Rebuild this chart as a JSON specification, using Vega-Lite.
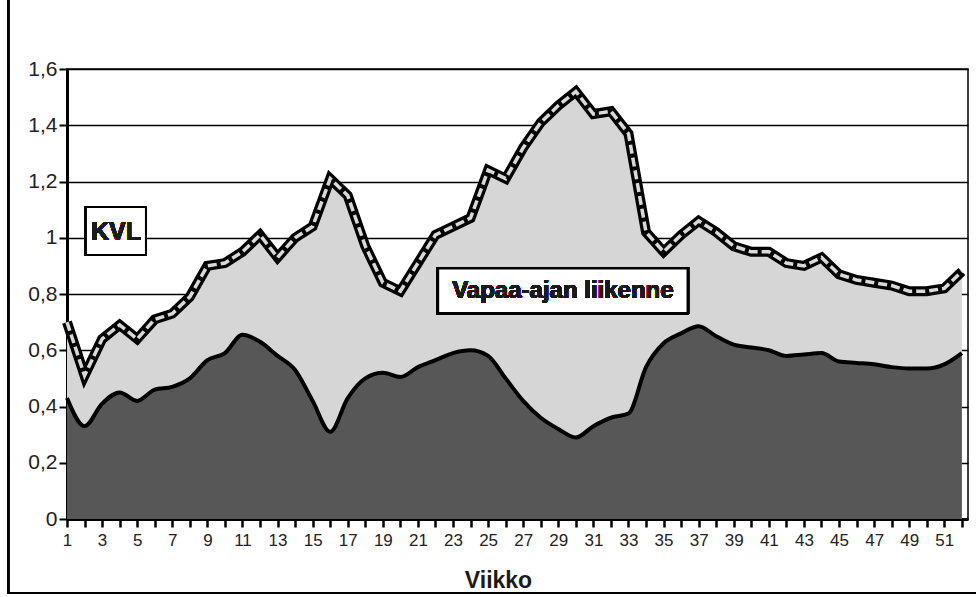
{
  "$schema": "https://vega.github.io/schema/vega-lite/v6.json",
  "autosize": {"type": "none"},
  "padding": {"left": 67, "top": 69, "right": 8, "bottom": 78},
  "width": 901,
  "height": 450,
  "background": "white",
  "config": {
    "font": "Liberation Sans",
    "view": {"stroke": "black", "strokeWidth": 1.5}
  },
  "datasets": {
    "weeks": [
      {"week": 1, "total": 0.70, "lower": 0.43},
      {"week": 2, "total": 0.51, "lower": 0.33},
      {"week": 3, "total": 0.64, "lower": 0.41},
      {"week": 4, "total": 0.69, "lower": 0.45},
      {"week": 5, "total": 0.64, "lower": 0.42},
      {"week": 6, "total": 0.71, "lower": 0.46},
      {"week": 7, "total": 0.73, "lower": 0.47},
      {"week": 8, "total": 0.79, "lower": 0.50},
      {"week": 9, "total": 0.90, "lower": 0.565},
      {"week": 10, "total": 0.91, "lower": 0.59},
      {"week": 11, "total": 0.95, "lower": 0.655},
      {"week": 12, "total": 1.01, "lower": 0.63},
      {"week": 13, "total": 0.93, "lower": 0.58},
      {"week": 14, "total": 1.00, "lower": 0.53},
      {"week": 15, "total": 1.04, "lower": 0.42},
      {"week": 16, "total": 1.21, "lower": 0.31},
      {"week": 17, "total": 1.15, "lower": 0.43},
      {"week": 18, "total": 0.97, "lower": 0.50},
      {"week": 19, "total": 0.84, "lower": 0.52},
      {"week": 20, "total": 0.81, "lower": 0.505},
      {"week": 21, "total": 0.91, "lower": 0.54},
      {"week": 22, "total": 1.01, "lower": 0.565},
      {"week": 23, "total": 1.04, "lower": 0.59},
      {"week": 24, "total": 1.07, "lower": 0.60},
      {"week": 25, "total": 1.24, "lower": 0.58},
      {"week": 26, "total": 1.21, "lower": 0.50},
      {"week": 27, "total": 1.32, "lower": 0.42},
      {"week": 28, "total": 1.41, "lower": 0.36},
      {"week": 29, "total": 1.47, "lower": 0.32},
      {"week": 30, "total": 1.52, "lower": 0.29},
      {"week": 31, "total": 1.44, "lower": 0.33},
      {"week": 32, "total": 1.45, "lower": 0.36},
      {"week": 33, "total": 1.37, "lower": 0.375},
      {"week": 34, "total": 1.02, "lower": 0.54},
      {"week": 35, "total": 0.95, "lower": 0.625},
      {"week": 36, "total": 1.01, "lower": 0.66},
      {"week": 37, "total": 1.06, "lower": 0.685},
      {"week": 38, "total": 1.02, "lower": 0.65},
      {"week": 39, "total": 0.97, "lower": 0.62},
      {"week": 40, "total": 0.95, "lower": 0.61},
      {"week": 41, "total": 0.95, "lower": 0.60},
      {"week": 42, "total": 0.91, "lower": 0.58},
      {"week": 43, "total": 0.90, "lower": 0.585},
      {"week": 44, "total": 0.93, "lower": 0.59},
      {"week": 45, "total": 0.87, "lower": 0.56},
      {"week": 46, "total": 0.85, "lower": 0.555},
      {"week": 47, "total": 0.84, "lower": 0.55},
      {"week": 48, "total": 0.83, "lower": 0.54},
      {"week": 49, "total": 0.81, "lower": 0.535},
      {"week": 50, "total": 0.81, "lower": 0.535},
      {"week": 51, "total": 0.82, "lower": 0.55},
      {"week": 52, "total": 0.88, "lower": 0.59}
    ]
  },
  "data": {"name": "weeks"},
  "encoding": {
    "x": {
      "field": "week", "type": "quantitative",
      "scale": {"domain": [1, 52.35], "nice": false, "zero": false},
      "axis": {
        "values": [1,2,3,4,5,6,7,8,9,10,11,12,13,14,15,16,17,18,19,20,21,22,23,24,25,26,27,28,29,30,31,32,33,34,35,36,37,38,39,40,41,42,43,44,45,46,47,48,49,50,51,52],
        "labelExpr": "datum.value % 2 == 1 ? datum.label : ''",
        "grid": false,
        "domainColor": "black", "domainWidth": 3,
        "tickColor": "black", "tickWidth": 2.5, "tickSize": 8,
        "labelFontSize": 17, "labelColor": "#222222", "labelPadding": 5, "labelFlush": false, "labelOverlap": false,
        "title": "Viikko", "titleFontSize": 23, "titleFontWeight": "bold", "titleColor": "#1a1a1a",
        "titleX": 431, "titleY": 68, "titleBaseline": "alphabetic", "titleAnchor": "middle"
      }
    }
  },
  "layer": [
    {
      "mark": {"type": "rect", "fill": null, "stroke": "black", "strokeWidth": 2, "clip": false},
      "encoding": {
        "x": {"datum": -2.36, "type": "quantitative"},
        "x2": {"datum": 56},
        "y": {"datum": -0.263, "type": "quantitative"},
        "y2": {"datum": 2.5}
      }
    },
    {
      "mark": {"type": "area", "color": "#d6d6d6", "interpolate": "linear"},
      "encoding": {
        "y": {
          "field": "total", "type": "quantitative",
          "scale": {"domain": [0, 1.6], "nice": false},
          "axis": {
            "values": [0, 0.2, 0.4, 0.6, 0.8, 1, 1.2, 1.4, 1.6],
            "labelExpr": "replace(format(datum.value, ''), '.', ',')",
            "grid": true, "gridColor": "black", "gridWidth": 1.5, "gridOpacity": 1,
            "domainColor": "black", "domainWidth": 3,
            "tickColor": "black", "tickWidth": 2, "tickSize": 8,
            "labelFontSize": 21, "labelColor": "#222222", "labelPadding": 2, "labelFlush": false,
            "title": null
          }
        }
      }
    },
    {
      "mark": {"type": "area", "color": "#575757", "interpolate": "monotone"},
      "encoding": {"y": {"field": "lower", "type": "quantitative"}}
    },
    {
      "mark": {"type": "line", "color": "black", "strokeWidth": 4, "interpolate": "monotone"},
      "encoding": {"y": {"field": "lower", "type": "quantitative"}}
    },
    {
      "mark": {"type": "line", "color": "black", "strokeWidth": 10, "strokeJoin": "miter"},
      "encoding": {"y": {"field": "total", "type": "quantitative"}}
    },
    {
      "mark": {"type": "line", "color": "#d9d9d9", "strokeWidth": 3.5, "strokeDash": [9, 4], "strokeJoin": "miter"},
      "encoding": {"y": {"field": "total", "type": "quantitative"}}
    },
    {
      "mark": {"type": "rect", "fill": "white", "stroke": "black", "strokeWidth": 2},
      "encoding": {
        "x": {"datum": 2.08, "type": "quantitative"},
        "x2": {"datum": 5.5},
        "y": {"datum": 0.939, "type": "quantitative"},
        "y2": {"datum": 1.109}
      }
    },
    {
      "mark": {"type": "text", "text": "KVL", "fontSize": 25, "fontWeight": "bold", "color": "#1a1a1a", "align": "center", "baseline": "middle"},
      "encoding": {
        "x": {"datum": 3.79, "type": "quantitative"},
        "y": {"datum": 1.022, "type": "quantitative"}
      }
    },
    {
      "mark": {"type": "rect", "fill": "white", "stroke": "black", "strokeWidth": 2.5},
      "encoding": {
        "x": {"datum": 22.14, "type": "quantitative"},
        "x2": {"datum": 36.38},
        "y": {"datum": 0.732, "type": "quantitative"},
        "y2": {"datum": 0.892}
      }
    },
    {
      "mark": {"type": "text", "text": "Vapaa-ajan liikenne", "fontSize": 24, "fontWeight": "bold", "color": "#1a1a1a", "align": "center", "baseline": "middle"},
      "encoding": {
        "x": {"datum": 29.26, "type": "quantitative"},
        "y": {"datum": 0.81, "type": "quantitative"}
      }
    }
  ]
}
